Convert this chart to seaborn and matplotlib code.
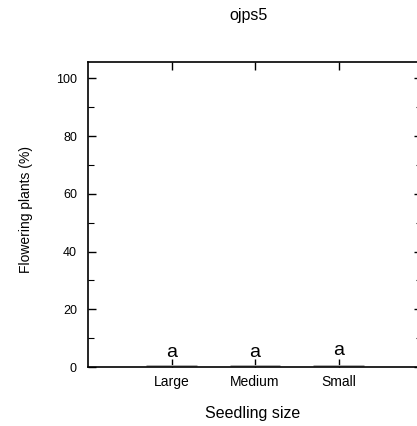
import matplotlib
matplotlib.use("Agg")
import matplotlib.pyplot as plt
import seaborn as sns
import pandas as pd
from matplotlib.ticker import MultipleLocator

# Flowering percentage by seedling size class
sizes = ["Large", "Medium", "Small"]
flowering = [0.0, 0.0, 0.0]
letters = ["a", "a", "a"]
letter_y = [3.3, 3.3, 4.1]

df = pd.DataFrame({"size": sizes, "flowering": flowering})

sns.set_style("ticks")
plt.rcParams["font.family"] = ["Liberation Sans", "DejaVu Sans"]
plt.rcParams.update({
    "text.color": "black",
    "axes.labelcolor": "black",
    "xtick.color": "black",
    "ytick.color": "black",
    "xtick.labelcolor": "black",
    "ytick.labelcolor": "black",
})

fig = plt.figure(figsize=(4.17, 4.26), dpi=100)
ax = fig.add_axes([88 / 417, 59 / 426, 334 / 417, 305 / 426])

sns.barplot(data=df, x="size", y="flowering", color="#d9d9d9",
            edgecolor="#a8a8a8", linewidth=3.5, width=0.6, ax=ax,
            errorbar=None, zorder=1)

for i, (lab, y) in enumerate(zip(letters, letter_y)):
    ax.text(i, y, lab, ha="center", va="baseline", fontsize=14,
            color="black")

ax.set_xlim(-1, 3)
ax.set_ylim(0, 105.7)
ax.yaxis.set_major_locator(MultipleLocator(20))
ax.yaxis.set_minor_locator(MultipleLocator(10))

ax.tick_params(axis="both", which="both", direction="in",
               top=True, right=True, color="black", labelcolor="black")
ax.tick_params(axis="both", which="major", length=5.8, width=1)
ax.tick_params(axis="y", which="minor", length=4.2, width=0.8)
ax.tick_params(axis="x", which="major", labelsize=10, pad=6.0)
ax.tick_params(axis="y", which="major", labelsize=9, pad=8)

for s in ax.spines.values():
    s.set_linewidth(1.2)
    s.set_color("black")
    s.set_zorder(2.5)

ax.set_xlabel("Seedling size", fontsize=11.5, color="black")
ax.xaxis.set_label_coords(0.4925, -0.128)
ax.set_ylabel("Flowering plants (%)", fontsize=10, color="black")
ax.yaxis.set_label_coords(-0.165, 0.518)

fig.text(249 / 417, 1 - 20 / 426, "ojps5", ha="center", va="baseline",
         fontsize=11.5, color="black")

fig.savefig("out.png", dpi=100)
